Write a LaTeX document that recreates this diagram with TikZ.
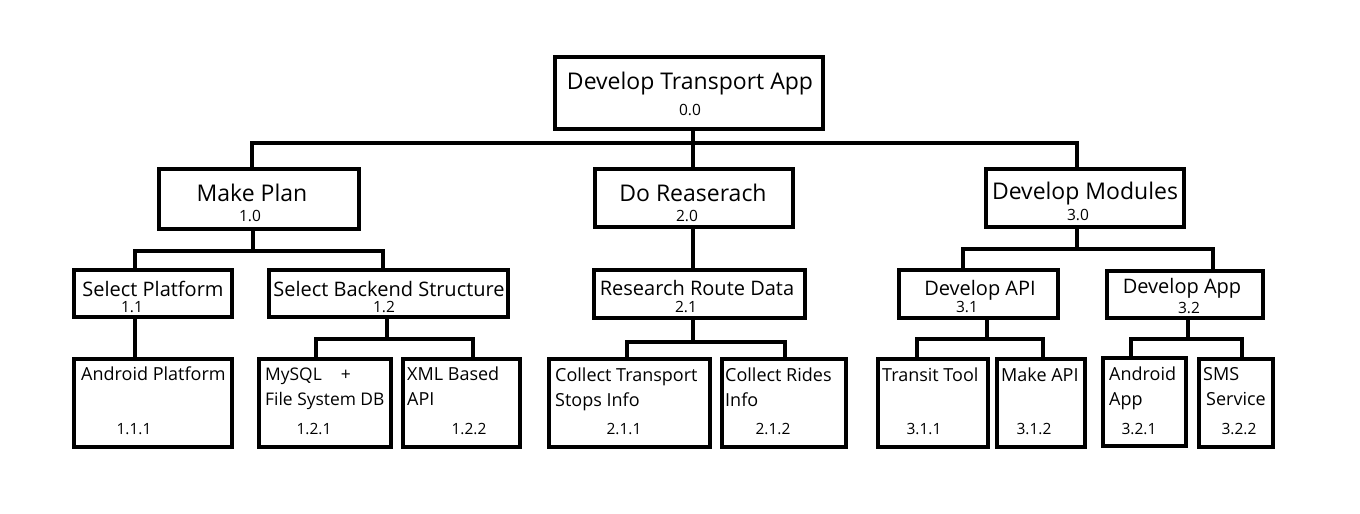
\documentclass[tikz,border=0pt]{standalone}
\usepackage{fontspec}
\setmainfont{Open Sans}
\newcommand\fbig{\fontsize{23}{28}\selectfont}
\newcommand\fsub{\fontsize{20}{25}\selectfont}
\newcommand\fmid{\fontsize{18}{25}\selectfont}
\newcommand\fsml{\fontsize{17.4}{25}\selectfont}
\newcommand\fnum{\fontsize{15.5}{18}\selectfont}
\newcommand\ml[1]{\begin{tabular}[t]{@{}l@{}}#1\end{tabular}}
\begin{document}
\begin{tikzpicture}[x=1pt,y=-1pt,
  bx/.style={draw, line width=4.5pt, rectangle, inner sep=0pt},
  conn/.style={line width=4.5pt},
  big/.style={font=\fbig, inner sep=0pt, anchor=base},
  sub/.style={font=\fsub, inner sep=0pt, anchor=base},
  midl/.style={font=\fmid, inner sep=0pt, anchor=base west},
  num/.style={font=\fnum, inner sep=0pt, anchor=base}]
\useasboundingbox (0,0) rectangle (1360,514);
% level 0
\node[bx, minimum width=268pt, minimum height=72pt] (root) at (689,93) {};
% level 1
\node[bx, minimum width=200pt, minimum height=60pt] (mp) at (259,199) {};
\node[bx, minimum width=198pt, minimum height=58pt] (dr) at (694,198) {};
\node[bx, minimum width=198pt, minimum height=58pt] (dm) at (1085,198) {};
% level 2
\node[bx, minimum width=158pt, minimum height=47pt] (sp) at (153,293.5) {};
\node[bx, minimum width=239pt, minimum height=47pt] (sb) at (388.5,293.5) {};
\node[bx, minimum width=211pt, minimum height=48pt] (rr) at (699.5,294) {};
\node[bx, minimum width=159pt, minimum height=48pt] (da) at (978.5,294) {};
\node[bx, minimum width=156pt, minimum height=47pt] (dp) at (1185,294.5) {};
% level 3
\node[bx, minimum width=158pt, minimum height=88pt] (ap) at (153,403) {};
\node[bx, minimum width=132pt, minimum height=88pt] (my) at (325,403) {};
\node[bx, minimum width=117pt, minimum height=88pt] (xm) at (461.5,403) {};
\node[bx, minimum width=161pt, minimum height=88pt] (ct) at (629.5,403) {};
\node[bx, minimum width=124pt, minimum height=88pt] (cr) at (784,403) {};
\node[bx, minimum width=110pt, minimum height=88pt] (tt) at (933,403) {};
\node[bx, minimum width=88pt, minimum height=88pt] (ma) at (1041,403) {};
\node[bx, minimum width=83pt, minimum height=88pt] (aa) at (1144.5,402) {};
\node[bx, minimum width=74pt, minimum height=88pt] (sm) at (1236,403) {};
% texts
\node[big] (t0) at (690,89) {Develop Transport App};
\node[num] (n0) at (690,115) {0.0};
\node[big] (t1) at (252,201) {Make Plan};
\node[num] (n1) at (250,221) {1.0};
\node[big] (t2) at (693,201) {Do Reaserach};
\node[num] (n2) at (687,221) {2.0};
\node[big] (t3) at (1085,199) {Develop Modules};
\node[num] (n3) at (1078,220) {3.0};
\node[sub] (t11) at (153,296) {Select Platform};
\node[num] (n11) at (132,312) {1.1};
\node[sub] (t12) at (389,296) {Select Backend Structure};
\node[num] (n12) at (384,312) {1.2};
\node[sub] (t21) at (697,295) {Research Route Data};
\node[num] (n21) at (686,312) {2.1};
\node[sub] (t31) at (980,295) {Develop API};
\node[num] (n31) at (967,312) {3.1};
\node[sub] (t32) at (1182,293) {Develop App};
\node[num] (n32) at (1189,313) {3.2};
\node[midl] (t111) at (81,380) {Android Platform};
\node[num] (n111) at (134,434) {1.1.1};
\node[midl, font=\fsml] (t121) at (265,380) {\ml{MySQL\hspace{19pt}+\\File System DB}};
\node[num] (n121) at (314,434) {1.2.1};
\node[midl] (t122) at (407,380) {\ml{XML Based\\API}};
\node[num] (n122) at (469,434) {1.2.2};
\node[midl] (t211) at (555,381) {\ml{Collect Transport\\Stops Info}};
\node[num] (n211) at (624,434) {2.1.1};
\node[midl] (t212) at (725,381) {\ml{Collect Rides\\Info}};
\node[num] (n212) at (773,434) {2.1.2};
\node[midl] (t311) at (882,381) {Transit Tool};
\node[num] (n311) at (924,434) {3.1.1};
\node[midl] (t312) at (1001,381) {Make API};
\node[num] (n312) at (1034,434) {3.1.2};
\node[midl] (t321) at (1109,380) {\ml{Android\\App}};
\node[num] (n321) at (1139,434) {3.2.1};
\node[midl] (t322) at (1203,380) {\ml{SMS\\\hspace{3pt}Service}};
\node[num] (n322) at (1239,434) {3.2.2};
% connectors
\coordinate (j0) at (693,143);
\coordinate (j0a) at (252,143);
\coordinate (j0b) at (1077,143);
\draw[conn] (root.south -| j0) -- (dr.north -| j0);
\draw[conn] (mp.north -| j0a) -- (j0a) -- (j0b) -- (dm.north -| j0b);
\coordinate (j1) at (253,251);
\coordinate (j1a) at (135,251);
\coordinate (j1b) at (383,251);
\draw[conn] (mp.south -| j1) -- (j1);
\draw[conn] (sp.north -| j1a) -- (j1a) -- (j1b) -- (sb.north -| j1b);
\draw[conn] (dr.south -| j0) -- (rr.north -| j0);
\coordinate (j3) at (1077,249);
\coordinate (j3a) at (963,249);
\coordinate (j3b) at (1213,249);
\draw[conn] (dm.south -| j3) -- (j3);
\draw[conn] (da.north -| j3a) -- (j3a) -- (j3b) -- (dp.north -| j3b);
\draw[conn] (sp.south -| j1a) -- (ap.north -| j1a);
\coordinate (j12) at (387,339);
\coordinate (j12a) at (316,339);
\coordinate (j12b) at (473,339);
\draw[conn] (sb.south -| j12) -- (j12);
\draw[conn] (my.north -| j12a) -- (j12a) -- (j12b) -- (xm.north -| j12b);
\coordinate (j21) at (693,342);
\coordinate (j21a) at (627,342);
\coordinate (j21b) at (785,342);
\draw[conn] (rr.south -| j21) -- (j21);
\draw[conn] (ct.north -| j21a) -- (j21a) -- (j21b) -- (cr.north -| j21b);
\coordinate (j31) at (987,339);
\coordinate (j31a) at (917,339);
\coordinate (j31b) at (1043,339);
\draw[conn] (da.south -| j31) -- (j31);
\draw[conn] (tt.north -| j31a) -- (j31a) -- (j31b) -- (ma.north -| j31b);
\coordinate (j32) at (1188,339);
\coordinate (j32a) at (1131,339);
\coordinate (j32b) at (1242,339);
\draw[conn] (dp.south -| j32) -- (j32);
\draw[conn] (aa.north -| j32a) -- (j32a) -- (j32b) -- (sm.north -| j32b);
\end{tikzpicture}
\end{document}
